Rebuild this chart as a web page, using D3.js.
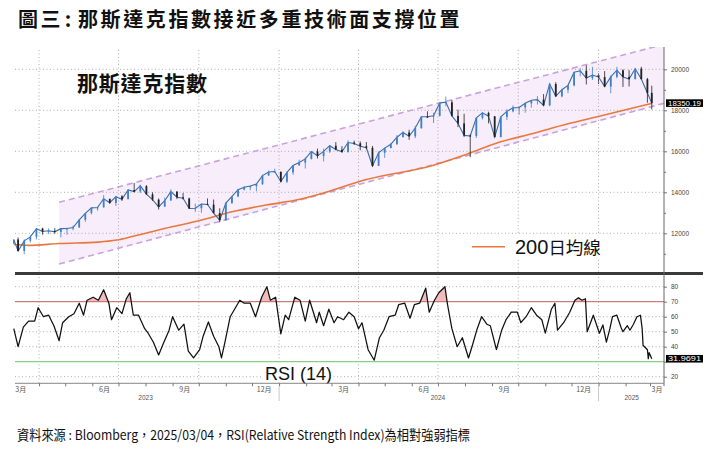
<!DOCTYPE html>
<html><head><meta charset="utf-8">
<script src="https://cdn.jsdelivr.net/npm/d3@7/dist/d3.min.js"></script>
<style>body{margin:0;background:#fff}svg{display:block}</style>
</head><body>
<svg id="c" width="725" height="457"></svg>
<script>
// ---------------- DATA ----------------
const weekDates = ["2023-03-03","2023-03-08","2023-03-15","2023-03-22","2023-03-29","2023-04-05","2023-04-12","2023-04-19","2023-04-26","2023-05-03","2023-05-10","2023-05-17","2023-05-24","2023-05-31","2023-06-07","2023-06-14","2023-06-21","2023-06-28","2023-07-05","2023-07-12","2023-07-19","2023-07-26","2023-08-02","2023-08-09","2023-08-16","2023-08-23","2023-08-30","2023-09-06","2023-09-13","2023-09-20","2023-09-27","2023-10-04","2023-10-11","2023-10-18","2023-10-25","2023-11-01","2023-11-08","2023-11-15","2023-11-22","2023-11-29","2023-12-06","2023-12-13","2023-12-20","2023-12-27",
"2024-01-03","2024-01-10","2024-01-17","2024-01-24","2024-01-31","2024-02-07","2024-02-14","2024-02-21","2024-02-28","2024-03-06","2024-03-13","2024-03-20","2024-03-27","2024-04-03","2024-04-10","2024-04-17","2024-04-24","2024-05-01","2024-05-08","2024-05-15","2024-05-22","2024-05-29","2024-06-05","2024-06-12","2024-06-19","2024-06-26","2024-07-03","2024-07-10","2024-07-17","2024-07-24","2024-07-31","2024-08-07","2024-08-14","2024-08-21","2024-08-28","2024-09-04","2024-09-11","2024-09-18","2024-09-25","2024-10-02","2024-10-09","2024-10-16","2024-10-23","2024-10-30","2024-11-06","2024-11-13","2024-11-20","2024-11-27","2024-12-04","2024-12-11","2024-12-18","2024-12-25",
"2025-01-01","2025-01-08","2025-01-15","2025-01-22","2025-01-29","2025-02-05","2025-02-12","2025-02-19","2025-02-26","2025-03-03"];
const opens = [11500,11700,11140,11640,11830,12230,12080,12120,12070,12220,12240,12290,12660,13000,13250,13270,13680,13480,13800,13670,14110,14040,14300,13900,13640,13300,13600,14030,13760,13700,13200,13220,13430,13400,12990,12650,13480,13800,14130,14240,14300,14400,14820,14990,
15000,14520,14970,15310,15450,15630,15990,15770,16000,16270,16080,15970,16430,16390,16250,16170,15290,15930,16160,16340,16690,16920,16730,17130,17690,17690,17730,18360,18390,17730,17360,16770,16750,17630,17870,17710,16690,17680,17950,18120,18140,18340,18490,18520,18240,19280,18680,19000,19220,19860,19930,19570,
19720,19620,19160,19630,19950,19630,19520,20030,19520,18850];
const highs = [11700,11800,11700,11900,12230,12270,12240,12250,12230,12270,12380,12700,12990,13250,13300,13860,13690,13800,13860,14150,14450,14370,14350,14000,13700,13750,14150,14060,13970,13740,13450,13450,13700,13650,13220,13520,13800,14170,14300,14330,14420,14860,15060,15150,
15010,15010,15320,15590,15700,16010,16130,16130,16300,16450,16250,16540,16520,16480,16450,16260,16000,16180,16400,16790,16980,17050,17240,17700,17950,17880,18360,18670,18500,18030,17830,16820,17650,17920,17930,17710,17700,18050,18240,18190,18380,18500,18690,18790,19320,19370,19050,19240,19870,20060,20200,20120,
19800,19910,19700,20120,20000,19960,20050,20120,19580,19200];
const lows = [11480,11130,10980,11550,11700,11930,11960,11980,11800,11930,12150,12260,12560,12920,13100,13250,13440,13330,13580,13650,14000,13970,13870,13580,13160,13290,13590,13670,13650,13200,13040,13000,13380,12980,12540,12600,13430,13760,14100,14100,14050,14360,14800,14990,
14480,14450,14850,15300,15160,15600,15650,15510,15920,16050,15930,15930,16310,16050,16100,15260,15280,15680,16150,16330,16680,16560,16640,17100,17640,17380,17700,18200,17700,17180,16700,15710,16650,17550,17360,16690,16690,17520,17900,17780,17880,18130,18280,18200,18200,18680,18630,18840,19170,19660,19260,19480,
19280,19130,18830,19560,19140,19160,19510,19500,18370,18040];
const closes = [11689,11138,11630,11824,12221,12088,12123,12072,12226,12235,12284,12658,12975,13240,13259,13689,13492,13788,13660,14113,14032,14316,13909,13645,13290,13590,14031,13761,13708,13212,13219,13431,13407,12984,12643,13478,13798,14125,14250,14305,14404,14814,14992,15011,
14524,14972,15311,15455,15629,15990,15776,15997,16275,16085,15973,16429,16379,16249,16175,15282,15928,16156,16341,16686,16921,16735,17133,17689,17689,17733,18353,18398,17727,17358,16776,16745,17631,17877,17714,16691,17684,17948,18120,18138,18343,18490,18519,18240,19287,18680,19004,19218,19860,19927,19573,19722,
19622,19162,19630,19954,19627,19523,20027,19524,18847,18350.19];

const maDates = ["2023-03-03","2023-03-20","2023-04-24","2023-06-08","2023-06-29","2023-07-18","2023-08-24","2023-10-01","2023-11-08","2023-12-17","2024-01-25","2024-02-17","2024-04-10","2024-06-25","2024-08-03","2024-09-10","2024-10-18","2024-11-26","2025-01-03","2025-03-03"];
const maValues = [11450,11410,11500,11570,11670,11860,12250,12610,13050,13380,13660,13920,14620,15310,15860,16450,16870,17330,17720,18340];

const channelDates = ["2023-04-24","2025-03-17"];
const channelUpper = [13510,21220];
const channelLower = [10500,18340];

const rsiDates = ["2023-03-03","2023-03-08","2023-03-14","2023-03-20","2023-03-27","2023-03-31",
"2023-04-06","2023-04-12","2023-04-18","2023-04-24","2023-04-28",
"2023-05-05","2023-05-11","2023-05-17","2023-05-22","2023-05-26",
"2023-06-02","2023-06-08","2023-06-14","2023-06-20","2023-06-23","2023-06-29",
"2023-07-05","2023-07-10","2023-07-14","2023-07-18","2023-07-24","2023-07-31",
"2023-08-04","2023-08-10","2023-08-16","2023-08-22","2023-08-28",
"2023-09-01","2023-09-08","2023-09-14","2023-09-19","2023-09-25",
"2023-10-02","2023-10-06","2023-10-12","2023-10-18","2023-10-24","2023-10-27","2023-10-31",
"2023-11-06","2023-11-13","2023-11-17","2023-11-22","2023-11-29",
"2023-12-05","2023-12-12","2023-12-18","2023-12-22","2023-12-28",
"2024-01-03","2024-01-08","2024-01-12","2024-01-19","2024-01-25","2024-01-31",
"2024-02-05","2024-02-13","2024-02-16","2024-02-21","2024-02-27",
"2024-03-04","2024-03-08","2024-03-15","2024-03-21","2024-03-27",
"2024-04-01","2024-04-05","2024-04-12","2024-04-19","2024-04-25","2024-04-30",
"2024-05-06","2024-05-13","2024-05-17","2024-05-24","2024-05-30",
"2024-06-04","2024-06-10","2024-06-17","2024-06-21","2024-06-27",
"2024-07-02","2024-07-09","2024-07-12","2024-07-17","2024-07-23","2024-07-29",
"2024-08-05","2024-08-09","2024-08-15","2024-08-20","2024-08-26","2024-08-30",
"2024-09-06","2024-09-12","2024-09-17","2024-09-23","2024-09-30",
"2024-10-04","2024-10-10","2024-10-16","2024-10-22","2024-10-28",
"2024-11-01","2024-11-08","2024-11-12","2024-11-15","2024-11-22","2024-11-29",
"2024-12-05","2024-12-09","2024-12-13","2024-12-17","2024-12-19","2024-12-26",
"2025-01-02","2025-01-06","2025-01-10","2025-01-14","2025-01-17","2025-01-22","2025-01-27","2025-01-29",
"2025-02-03","2025-02-06","2025-02-10","2025-02-14","2025-02-18","2025-02-20","2025-02-21","2025-02-26","2025-02-27","2025-02-28",
"2025-03-03"];
const rsiValues = [52,40,53,57,57,66,
60,61,54,44,56,
60,62,69,61,71,
73,71,78,69,58,66,
62,72,76,61,61,52,
49,43,34.5,43,51,
60,51,55,37,32.5,
38,47,56.5,47,40,32.5,43,
60,67,71,69,69,
60,73,80,71,73,
48.5,61,58,73,71,57,
71,56,63,54,65,
56,60,58,63,60,
52,56,38,31,46,51,
60,61,68,69,59,
68,69,79,63,71,
76,80,68,52,40,46,
32.5,40,52,60,55,54,
38,51,58,63,63,
56,60,66,61,58,
49,65,69,51,56,63,
71,72.7,71,72,50,61,
49,54.5,43,52,60,61,52.5,50,
54,51,55,60,61,52,41,38,32,36,
31.9691];

const priceTicks = [12000,14000,16000,18000,20000];
const priceMinorTicks = [11000,13000,15000,17000,19000];
const rsiTicks = [20,30,40,50,60,70,80];
const rsiTickLabels = ["20","","40","50","60","70","80"];
const rsiGrid = [20,40,50,60,80];
const quarterGridDates = ["2023-04-01","2023-07-01","2023-10-01","2024-01-01","2024-04-01","2024-07-01","2024-10-01","2025-01-01"];
const monthLabelDates = ["2023-03-11","2023-06-15","2023-09-15","2023-12-15","2024-03-15","2024-06-15","2024-09-15","2024-12-15","2025-03-09"];
const monthLabels = ["3月","6月","9月","12月","3月","6月","9月","12月","3月"];
const yearLabelDates = ["2023-08-01","2024-07-01","2025-02-08"];
const yearLabels = ["2023","2024","2025"];
const yearBreaks = ["2024-01-01","2025-01-01"];
const lastPrice = 18350.19, lastRsi = 31.9691;
const sourceText = "資料來源 : Bloomberg，2025/03/04，RSI(Relative Strength Index)為相對強弱指標";

// ---------------- DRAW ----------------
const P = d3.timeParse("%Y-%m-%d");
const svg = d3.select("#c");
const CJK = "'Noto Sans CJK TC','Noto Sans CJK SC',sans-serif";
const SANS = "'Liberation Sans',Arial,sans-serif";
const LEFT = 15, RIGHT = 664;
const TOP1 = 47, BOT1 = 272, TOP2 = 276, BOT2 = 383.3;

const x = d3.scaleTime().domain([P("2023-03-01"), P("2025-03-17")]).range([12, 664]);
const yP = d3.scaleLinear().domain([10000, 20000]).range([274.3, 69.3]);
const yR = d3.scaleLinear().domain([20, 80]).range([376.7, 286.7]);

const defs = svg.append("defs");
defs.append("clipPath").attr("id","clipTop").append("rect")
  .attr("x",LEFT-2).attr("y",TOP1).attr("width",RIGHT-LEFT+2).attr("height",BOT1-TOP1);
defs.append("clipPath").attr("id","clipOB").append("rect")
  .attr("x",LEFT).attr("y",TOP2).attr("width",RIGHT-LEFT).attr("height",yR(70)-TOP2);
defs.append("clipPath").attr("id","clipOS").append("rect")
  .attr("x",LEFT).attr("y",yR(30)).attr("width",RIGHT-LEFT).attr("height",BOT2-yR(30));

// Title
svg.append("text").attr("x",18).attr("y",27).attr("font-family",CJK).attr("font-weight",700)
  .attr("font-size",20).attr("letter-spacing",2.6).attr("fill","#111").text("圖三");
svg.append("text").attr("x",68).attr("y",27).attr("text-anchor","middle").attr("font-family",CJK).attr("font-weight",700)
  .attr("font-size",20).attr("fill","#111").text(":");
svg.append("text").attr("x",78).attr("y",27).attr("font-family",CJK).attr("font-weight",700)
  .attr("font-size",20).attr("letter-spacing",2.6).attr("fill","#111").text("那斯達克指數接近多重技術面支撐位置");

// ---- top panel ----
const gTop = svg.append("g").attr("clip-path","url(#clipTop)");
const chan = channelDates.map((d,i)=>({d:P(d), u:channelUpper[i], l:channelLower[i]}));
gTop.append("path").datum(chan).attr("fill","#f8edfa")
  .attr("d", d3.area().x(d=>x(d.d)).y0(d=>yP(d.l)).y1(d=>yP(d.u)));

gTop.selectAll("line.hg").data(priceTicks).join("line")
  .attr("x1",LEFT).attr("x2",RIGHT).attr("y1",d=>yP(d)).attr("y2",d=>yP(d))
  .attr("stroke","#9a9a9a").attr("stroke-width",0.8).attr("stroke-dasharray","1,2.5");
svg.selectAll("line.vg1").data(quarterGridDates).join("line")
  .attr("x1",d=>x(P(d))).attr("x2",d=>x(P(d))).attr("y1",TOP1+3).attr("y2",BOT1)
  .attr("stroke","#9a9a9a").attr("stroke-width",0.8).attr("stroke-dasharray","1,2.5");

["u","l"].forEach(k=>{
  gTop.append("path").datum(chan).attr("fill","none").attr("stroke","#c9a3dd").attr("stroke-width",1.6)
    .attr("stroke-dasharray","6,4").attr("d", d3.line().x(d=>x(d.d)).y(d=>yP(d[k])));
});

const ma = maDates.map((d,i)=>({d:P(d), v:maValues[i]}));
gTop.append("path").datum(ma).attr("fill","none").attr("stroke","#e8793c").attr("stroke-width",1.6)
  .attr("d", d3.line().curve(d3.curveMonotoneX).x(d=>x(d.d)).y(d=>yP(d.v)));

const candles = weekDates.map((d,i)=>({d:P(d), o:opens[i], h:highs[i], l:lows[i], c:closes[i]}));
const col = d=> d.c>=d.o ? "#3f80c6" : "#222";
gTop.append("path").datum(candles).attr("fill","none").attr("stroke","#3a6ea8").attr("stroke-width",1.1)
  .attr("d", d3.line().x(d=>x(d.d)).y(d=>yP(d.c)));
gTop.selectAll("line.wick").data(candles).join("line")
  .attr("x1",d=>x(d.d)).attr("x2",d=>x(d.d)).attr("y1",d=>yP(d.h)).attr("y2",d=>yP(d.l))
  .attr("stroke",col).attr("stroke-width",0.8);
gTop.selectAll("rect.body").data(candles).join("rect")
  .attr("x",d=>x(d.d)-0.9).attr("width",1.8)
  .attr("y",d=>yP(Math.max(d.o,d.c))).attr("height",d=>Math.max(1,Math.abs(yP(d.o)-yP(d.c))))
  .attr("fill",col);

svg.append("text").attr("x",77).attr("y",91).attr("font-family",CJK).attr("font-weight",700)
  .attr("font-size",21).attr("letter-spacing",0.8).attr("fill","#111").text("那斯達克指數");

// legend
svg.append("rect").attr("x",466).attr("y",235).attr("width",145).attr("height",24).attr("fill","#fff");
svg.append("line").attr("x1",472).attr("x2",505).attr("y1",246.7).attr("y2",246.7)
  .attr("stroke","#e8793c").attr("stroke-width",1.6);
const lg = svg.append("text").attr("x",515).attr("y",254).attr("fill","#111");
lg.append("tspan").attr("font-family",SANS).attr("font-size",20).text("200");
lg.append("tspan").attr("font-family",CJK).attr("font-size",17.5).text("日均線");

// right price axis
const axP = svg.append("g").attr("transform",`translate(${RIGHT},0)`)
  .call(d3.axisRight(yP).tickValues(priceTicks).tickSize(3).tickPadding(4).tickFormat(d3.format("d")));
axP.select(".domain").remove();
const axPm = svg.append("g").attr("transform",`translate(${RIGHT},0)`)
  .call(d3.axisRight(yP).tickValues(priceMinorTicks).tickSize(2).tickFormat(""));
axPm.select(".domain").remove();

svg.append("line").attr("x1",LEFT).attr("x2",703).attr("y1",273.5).attr("y2",273.5)
  .attr("stroke","#3a3a3a").attr("stroke-width",3);

// ---- RSI panel ----
svg.selectAll("line.rg").data(rsiGrid).join("line")
  .attr("x1",LEFT).attr("x2",RIGHT).attr("y1",d=>yR(d)).attr("y2",d=>yR(d))
  .attr("stroke","#9a9a9a").attr("stroke-width",0.8).attr("stroke-dasharray","1,2.5");
svg.selectAll("line.vg2").data(quarterGridDates).join("line")
  .attr("x1",d=>x(P(d))).attr("x2",d=>x(P(d))).attr("y1",TOP2+1).attr("y2",BOT2)
  .attr("stroke","#9a9a9a").attr("stroke-width",0.8).attr("stroke-dasharray","1,2.5");

const rsi = rsiDates.map((d,i)=>({d:P(d), v:rsiValues[i]}));
svg.append("path").datum(rsi).attr("clip-path","url(#clipOB)").attr("fill","#f3bcbc")
  .attr("d", d3.area().x(d=>x(d.d)).y0(yR(70)).y1(d=>yR(d.v)));
svg.append("path").datum(rsi).attr("clip-path","url(#clipOS)").attr("fill","#c6ecc6")
  .attr("d", d3.area().x(d=>x(d.d)).y0(yR(30)).y1(d=>yR(d.v)));
svg.append("line").attr("x1",LEFT).attr("x2",RIGHT).attr("y1",yR(70)).attr("y2",yR(70))
  .attr("stroke","#c06060").attr("stroke-width",1);
svg.append("line").attr("x1",LEFT).attr("x2",RIGHT).attr("y1",yR(30)).attr("y2",yR(30))
  .attr("stroke","#86d086").attr("stroke-width",1.2);
svg.append("path").datum(rsi).attr("fill","none").attr("stroke","#111").attr("stroke-width",1.25)
  .attr("stroke-linejoin","round").attr("d", d3.line().x(d=>x(d.d)).y(d=>yR(d.v)));

svg.append("rect").attr("x",262).attr("y",363).attr("width",70).attr("height",19.5).attr("fill","#fff");
svg.append("text").attr("x",265).attr("y",380).attr("font-family",SANS)
  .attr("font-size",18).attr("fill","#111").text("RSI (14)");

const axR = svg.append("g").attr("transform",`translate(${RIGHT},0)`)
  .call(d3.axisRight(yR).tickValues(rsiTicks).tickSize(3).tickPadding(4).tickFormat((d,i)=>rsiTickLabels[i]));
axR.select(".domain").remove();

svg.append("line").attr("x1",RIGHT).attr("x2",RIGHT).attr("y1",TOP1).attr("y2",386).attr("stroke","#666").attr("stroke-width",1);

const axX = svg.append("g").attr("transform",`translate(0,${BOT2})`)
  .call(d3.axisBottom(x).tickValues(d3.timeMonth.range(P("2023-04-01"), P("2025-03-02"))).tickSize(3).tickFormat(""));
axX.select(".domain").attr("d",`M${LEFT},0H${RIGHT}`).attr("stroke","#888");
svg.selectAll("text.mlab").data(monthLabelDates).join("text")
  .attr("x",d=>x(P(d))).attr("y",391.5).attr("text-anchor","middle")
  .attr("font-family",CJK).attr("font-size",7).attr("fill","#555").text((d,i)=>monthLabels[i]);
svg.selectAll("text.ylab").data(yearLabelDates).join("text")
  .attr("x",d=>x(P(d))).attr("y",400).attr("text-anchor","middle")
  .attr("font-family",SANS).attr("font-size",6.5).attr("fill","#555").text((d,i)=>yearLabels[i]);
svg.selectAll("line.yb").data(yearBreaks).join("line")
  .attr("x1",d=>x(P(d))).attr("x2",d=>x(P(d))).attr("y1",386).attr("y2",401)
  .attr("stroke","#bbb").attr("stroke-width",0.8);

svg.selectAll(".tick text").attr("font-family",SANS).attr("font-size",6.5).attr("fill","#444");
svg.selectAll(".tick line").attr("stroke","#777");

function valBox(yv, txt){
  svg.append("rect").attr("x",666).attr("y",yv-3.8).attr("width",37).attr("height",7.6).attr("fill","#000");
  svg.append("text").attr("x",684.5).attr("y",yv+2.4).attr("text-anchor","middle").attr("font-family",SANS).attr("font-size",6.8)
    .attr("textLength",33).attr("lengthAdjust","spacingAndGlyphs")
    .attr("fill","#fff").text(txt);
}
valBox(yP(lastPrice), d3.format(".2f")(lastPrice));
valBox(yR(lastRsi), d3.format(".4f")(lastRsi));

// source line
svg.append("text").attr("x",17).attr("y",440).attr("fill","#111")
  .attr("font-family",CJK).attr("font-size",13.5)
  .attr("textLength",453).attr("lengthAdjust","spacingAndGlyphs").text(sourceText);
</script>
</body></html>
